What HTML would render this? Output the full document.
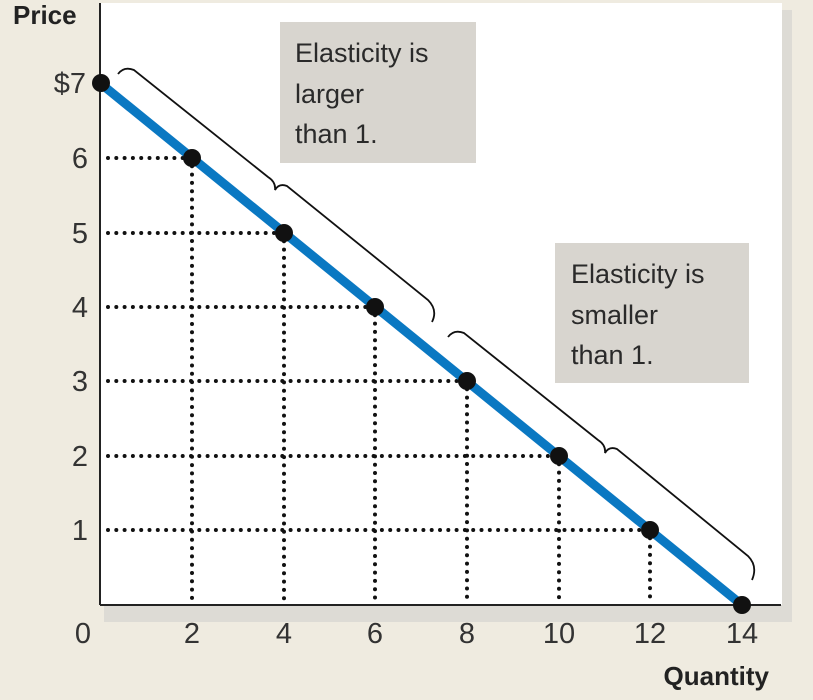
<!DOCTYPE html>
<html><head><style>
body{margin:0;background:#efebe0;}
svg{display:block}
text{font-family:"Liberation Sans",sans-serif;}
</style></head><body>
<svg width="813" height="700" viewBox="0 0 813 700">
<rect x="0" y="0" width="813" height="700" fill="#efebe0"/>
<rect x="104" y="10" width="688" height="612" fill="#d6d4d0" opacity="0.7"/>
<rect x="100" y="3" width="682" height="602" fill="#ffffff"/>
<g stroke="#111" stroke-width="4" stroke-dasharray="0 8.3" stroke-linecap="round">
<line x1="108" y1="158" x2="192" y2="158"/><line x1="192" y1="158" x2="192" y2="603"/>
<line x1="108" y1="233" x2="284" y2="233"/><line x1="284" y1="233" x2="284" y2="603"/>
<line x1="108" y1="307" x2="375" y2="307"/><line x1="375" y1="307" x2="375" y2="603"/>
<line x1="108" y1="381" x2="467" y2="381"/><line x1="467" y1="381" x2="467" y2="603"/>
<line x1="108" y1="456" x2="559" y2="456"/><line x1="559" y1="456" x2="559" y2="603"/>
<line x1="108" y1="530" x2="650" y2="530"/><line x1="650" y1="530" x2="650" y2="603"/>
</g>
<line x1="100" y1="3" x2="100" y2="605" stroke="#222" stroke-width="2"/>
<line x1="100" y1="605" x2="781" y2="605" stroke="#222" stroke-width="2"/>
<line x1="100" y1="83" x2="742" y2="605" stroke="#0a78c2" stroke-width="9"/>
<g fill="#111">
<circle cx="101" cy="83" r="9"/><circle cx="192" cy="158" r="9"/><circle cx="284" cy="233" r="9"/>
<circle cx="375" cy="307" r="9"/><circle cx="467" cy="381" r="9"/><circle cx="559" cy="456" r="9"/>
<circle cx="650" cy="530" r="9"/><circle cx="742" cy="605" r="9"/>
</g>
<g fill="none" stroke="#111" stroke-width="1.8">
<path d="M118,74 Q124,66 134,70 L268,177 Q276,182 275,190 Q279,183 287,186 L428,300 Q438,310 432,322"/>
<path d="M448,337 Q454,329 464,333 L598,440 Q606,445 605,453 Q609,446 617,449 L748,556 Q758,566 752,580"/>
</g>
<rect x="280" y="22" width="196" height="141" fill="#d8d5cf"/>
<rect x="555" y="243" width="194" height="140" fill="#d8d5cf"/>
<g font-size="27" fill="#2a2a2a">
<text x="295" y="62">Elasticity is</text><text x="295" y="103">larger</text><text x="295" y="143">than 1.</text>
<text x="571" y="283">Elasticity is</text><text x="571" y="324">smaller</text><text x="571" y="364">than 1.</text>
</g>
<g font-size="29" fill="#333" text-anchor="end">
<text x="86" y="93">$7</text><text x="88" y="168">6</text><text x="88" y="243">5</text><text x="88" y="317">4</text>
<text x="88" y="391">3</text><text x="88" y="466">2</text><text x="88" y="540">1</text>
</g>
<g font-size="29" fill="#333" text-anchor="middle">
<text x="83" y="643">0</text><text x="192" y="643">2</text><text x="284" y="643">4</text><text x="375" y="643">6</text>
<text x="467" y="643">8</text><text x="559" y="643">10</text><text x="650" y="643">12</text><text x="742" y="643">14</text>
</g>
<text x="13" y="24" font-size="26" font-weight="bold" fill="#222">Price</text>
<text x="769" y="685" font-size="26" font-weight="bold" fill="#222" text-anchor="end">Quantity</text>
</svg>
</body></html>
